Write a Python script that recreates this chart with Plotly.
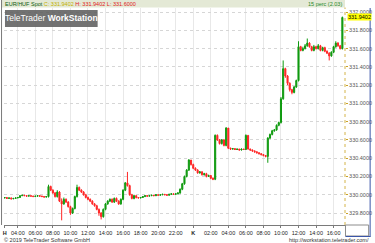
import pandas as pd
import plotly.graph_objects as go

# ---- data (15 minute candles, EUR/HUF spot) ----
start_time = "2019-06-03 02:30"
n_candles = 155

open_ = [329.965, 329.970, 329.960, 329.965, 329.955, 329.960, 329.965, 329.970, 329.990, 329.995,
         329.990, 329.985, 329.990, 329.985, 329.980, 329.985, 329.990, 329.985, 329.980, 329.975,
         329.980, 330.090, 330.050, 330.020, 329.980, 330.030, 329.930, 329.900, 329.950, 329.920,
         329.870, 329.800, 329.850, 329.980, 330.080, 330.050, 330.030, 330.000, 329.970, 329.950,
         329.930, 329.900, 329.880, 329.840, 329.800, 329.760, 329.840, 329.900, 329.930, 329.950,
         329.920, 329.960, 329.930, 329.900, 329.950, 330.050, 330.130, 330.100, 330.000, 329.960,
         329.990, 329.970, 329.965, 329.970, 329.980, 329.990, 329.985, 329.990, 329.995, 329.990,
         330.000, 329.995, 330.000, 330.005, 330.000, 329.995, 330.005, 330.010, 330.005, 330.010,
         330.020, 330.060, 330.120, 330.200, 330.270, 330.380, 330.330, 330.290, 330.270, 330.240,
         330.250, 330.220, 330.230, 330.200, 330.210, 330.180, 330.170, 330.650, 330.600, 330.560,
         330.600, 330.540, 330.730, 330.510, 330.500, 330.505, 330.495, 330.500, 330.490, 330.500,
         330.495, 330.650, 330.500, 330.490, 330.480, 330.470, 330.460, 330.450, 330.440, 330.430,
         330.420, 330.620, 330.660, 330.700, 330.710, 330.760, 330.790, 331.050, 331.380, 331.300,
         331.220, 331.150, 331.120, 331.180, 331.250, 331.620, 331.580, 331.600, 331.630, 331.660,
         331.620, 331.580, 331.620, 331.600, 331.630, 331.580, 331.610, 331.570, 331.550, 331.520,
         331.560, 331.620, 331.660, 331.630, 331.600]

high = [329.975, 329.975, 329.970, 329.970, 329.965, 329.970, 329.975, 329.995, 330.000, 329.998,
        329.995, 329.995, 329.992, 329.990, 329.990, 329.995, 329.993, 329.990, 329.985, 329.985,
        330.110, 330.100, 330.060, 330.030, 330.050, 330.040, 329.960, 329.970, 329.960, 329.930,
        329.880, 329.860, 329.990, 330.110, 330.090, 330.060, 330.040, 330.010, 329.980, 329.960,
        329.940, 329.910, 329.890, 329.850, 329.810, 329.850, 329.910, 329.940, 329.960, 329.960,
        329.970, 329.970, 329.940, 329.960, 330.060, 330.140, 330.250, 330.110, 330.010, 330.000,
        329.995, 329.975, 329.975, 329.985, 329.995, 329.995, 329.993, 330.000, 329.998, 330.005,
        330.003, 330.005, 330.010, 330.008, 330.003, 330.010, 330.015, 330.012, 330.015, 330.025,
        330.070, 330.130, 330.210, 330.280, 330.390, 330.380, 330.340, 330.300, 330.280, 330.260,
        330.260, 330.240, 330.240, 330.220, 330.215, 330.190, 330.660, 330.660, 330.610, 330.610,
        330.610, 330.740, 330.730, 330.515, 330.512, 330.508, 330.505, 330.503, 330.505, 330.503,
        330.660, 330.650, 330.505, 330.495, 330.485, 330.475, 330.465, 330.455, 330.445, 330.435,
        330.630, 330.670, 330.710, 330.720, 330.770, 330.800, 331.070, 331.470, 331.390, 331.310,
        331.230, 331.160, 331.190, 331.260, 331.680, 331.630, 331.620, 331.650, 331.710, 331.670,
        331.630, 331.640, 331.630, 331.650, 331.640, 331.620, 331.620, 331.580, 331.560, 331.570,
        331.630, 331.680, 331.670, 331.640, 331.950]

low = [329.960, 329.955, 329.955, 329.950, 329.952, 329.958, 329.962, 329.968, 329.985, 329.985,
       329.980, 329.982, 329.980, 329.975, 329.978, 329.982, 329.980, 329.975, 329.970, 329.970,
       329.970, 330.040, 330.010, 329.970, 329.970, 329.920, 329.720, 329.890, 329.910, 329.860,
       329.780, 329.790, 329.840, 329.970, 330.040, 330.020, 329.990, 329.960, 329.940, 329.920,
       329.890, 329.870, 329.830, 329.770, 329.730, 329.750, 329.830, 329.890, 329.920, 329.910,
       329.910, 329.920, 329.890, 329.890, 329.940, 330.040, 330.090, 329.990, 329.950, 329.950,
       329.960, 329.960, 329.960, 329.965, 329.975, 329.980, 329.982, 329.985, 329.985, 329.985,
       329.990, 329.990, 329.995, 329.995, 329.990, 329.990, 330.000, 330.000, 330.000, 330.005,
       330.010, 330.050, 330.110, 330.190, 330.260, 330.320, 330.280, 330.260, 330.230, 330.230,
       330.210, 330.210, 330.190, 330.195, 330.170, 330.160, 330.160, 330.590, 330.550, 330.550,
       330.530, 330.530, 330.500, 330.490, 330.495, 330.490, 330.490, 330.485, 330.485, 330.490,
       330.490, 330.495, 330.480, 330.470, 330.460, 330.450, 330.440, 330.430, 330.420, 330.410,
       330.350, 330.610, 330.650, 330.690, 330.700, 330.750, 330.780, 331.040, 331.280, 331.200,
       331.130, 331.100, 331.110, 331.170, 331.240, 331.570, 331.570, 331.590, 331.620, 331.610,
       331.570, 331.570, 331.590, 331.590, 331.570, 331.570, 331.560, 331.540, 331.470, 331.510,
       331.550, 331.610, 331.620, 331.590, 331.590]

close = [329.970, 329.960, 329.965, 329.955, 329.960, 329.965, 329.970, 329.990, 329.995, 329.990,
         329.985, 329.990, 329.985, 329.980, 329.985, 329.990, 329.985, 329.980, 329.975, 329.980,
         330.090, 330.050, 330.020, 329.980, 330.030, 329.930, 329.900, 329.950, 329.920, 329.870,
         329.800, 329.850, 329.980, 330.080, 330.050, 330.030, 330.000, 329.970, 329.950, 329.930,
         329.900, 329.880, 329.840, 329.800, 329.760, 329.840, 329.900, 329.930, 329.950, 329.920,
         329.960, 329.930, 329.900, 329.950, 330.050, 330.130, 330.100, 330.000, 329.960, 329.990,
         329.970, 329.965, 329.970, 329.980, 329.990, 329.985, 329.990, 329.995, 329.990, 330.000,
         329.995, 330.000, 330.005, 330.000, 329.995, 330.005, 330.010, 330.005, 330.010, 330.020,
         330.060, 330.120, 330.200, 330.270, 330.380, 330.330, 330.290, 330.270, 330.240, 330.250,
         330.220, 330.230, 330.200, 330.210, 330.180, 330.170, 330.650, 330.600, 330.560, 330.600,
         330.540, 330.730, 330.510, 330.500, 330.505, 330.495, 330.500, 330.490, 330.500, 330.495,
         330.650, 330.500, 330.490, 330.480, 330.470, 330.460, 330.450, 330.440, 330.430, 330.420,
         330.620, 330.660, 330.700, 330.710, 330.760, 330.790, 331.050, 331.380, 331.300, 331.220,
         331.150, 331.120, 331.180, 331.250, 331.620, 331.580, 331.600, 331.630, 331.660, 331.620,
         331.580, 331.620, 331.600, 331.630, 331.580, 331.610, 331.570, 331.550, 331.520, 331.560,
         331.620, 331.660, 331.630, 331.600, 331.9402]

tick_times = ["2019-06-03 02:30", "2019-06-03 04:00", "2019-06-03 06:00", "2019-06-03 08:00",
              "2019-06-03 10:00", "2019-06-03 12:00", "2019-06-03 14:00", "2019-06-03 16:00",
              "2019-06-03 18:00", "2019-06-03 20:00", "2019-06-03 22:00", "2019-06-04 00:00",
              "2019-06-04 02:00", "2019-06-04 04:00", "2019-06-04 06:00", "2019-06-04 08:00",
              "2019-06-04 10:00", "2019-06-04 12:00", "2019-06-04 14:00", "2019-06-04 16:00"]
tick_labels = ["<b>H</b>", "04:00", "06:00", "08:00", "10:00", "12:00", "14:00", "16:00",
               "18:00", "20:00", "22:00", "<b>K</b>", "02:00", "04:00", "06:00", "08:00",
               "10:00", "12:00", "14:00", "16:00"]
y_ticks = [329.8, 330.0, 330.2, 330.4, 330.6, 330.8, 331.0, 331.2, 331.4, 331.6, 331.8, 332.0]
last_price = 331.9402

times = pd.date_range(start_time, periods=n_candles, freq="15min")

# ---- layout helpers (pixel -> paper) ----
W, H = 375, 243
L, R, T, B = 3, 26, 8, 18
PW, PH = W - L - R, H - T - B


def px(X):
    return (X - L) / PW


def py(Y):
    return (H - B - Y) / PH


FONT = "Liberation Sans"
GREEN = "#0f9a0f"
RED = "#ff2626"

fig = go.Figure()
fig.add_trace(go.Candlestick(
    x=times, open=open_, high=high, low=low, close=close,
    increasing=dict(line=dict(color=GREEN, width=1), fillcolor=GREEN),
    decreasing=dict(line=dict(color=RED, width=1), fillcolor=RED),
    whiskerwidth=0, showlegend=False, hoverinfo="skip",
))

shapes = [
    # header bar
    dict(type="rect", xref="paper", yref="paper", x0=px(0), x1=px(349), y0=py(7.5), y1=py(0),
         fillcolor="#e4e9d6", line=dict(width=0), layer="below"),
    # right axis dotted line
    dict(type="line", xref="paper", yref="paper", x0=1, x1=1, y0=0, y1=py(7.5),
         line=dict(color="#d4b44a", width=1, dash="dot")),
    # watermark box
    dict(type="rect", xref="paper", yref="paper", x0=px(4), x1=px(98), y0=py(27), y1=py(10),
         fillcolor="rgba(95,95,95,0.88)", line=dict(width=0)),
    # bottom-right box
    dict(type="rect", xref="paper", yref="paper", x0=px(349.5), x1=px(373), y0=py(236), y1=py(225),
         fillcolor="white", line=dict(color="#8c8c8c", width=1)),
    # blue window edge
    dict(type="line", xref="paper", yref="paper", x0=px(374.5), x1=px(374.5), y0=py(236.5), y1=py(8),
         line=dict(color="#3a55a8", width=1)),
    dict(type="line", xref="paper", yref="paper", x0=px(349.5), x1=px(375), y0=py(236.5), y1=py(236.5),
         line=dict(color="#3a55a8", width=1)),
    # left edge
    dict(type="line", xref="paper", yref="paper", x0=px(0.5), x1=px(0.5), y0=0, y1=py(0),
         line=dict(color="#7a7a7a", width=1)),
]

annotations = [
    dict(xref="paper", yref="paper", x=px(1.5), y=py(3.8), xanchor="left", yanchor="middle",
         text="<span style='color:#0a5a0a'>EUR/HUF Spot</span> "
              "<span style='color:#c2b000'>C: 331.9402</span> "
              "<span style='color:#e02020'>H: 331.9402 L: 331.6000</span>",
         showarrow=False, font=dict(family=FONT, size=5.5)),
    dict(xref="paper", yref="paper", x=px(348), y=py(3.8), xanchor="right", yanchor="middle",
         text="15 perc (2.03)", showarrow=False, font=dict(family=FONT, size=5.5, color="#2a8a2a")),
    dict(xref="paper", yref="paper", x=px(51), y=py(18.5), xanchor="center", yanchor="middle",
         text="TeleTrader <b>WorkStation</b>", showarrow=False,
         font=dict(family=FONT, size=8.5, color="white")),
    dict(xref="paper", yref="y", x=1, y=last_price, xanchor="left", yanchor="middle", xshift=2,
         text=f"{last_price:.4f}", showarrow=False, bgcolor="#ffff00", borderpad=0,
         font=dict(family=FONT, size=5.5, color="black")),
    dict(xref="paper", yref="paper", x=px(0.5), y=py(239.5), xanchor="left", yanchor="middle",
         text="© 2019 TeleTrader Software GmbH", showarrow=False,
         font=dict(family=FONT, size=5.5, color="#333333")),
    dict(xref="paper", yref="paper", x=px(375), y=py(239.5), xanchor="right", yanchor="middle",
         text="http://workstation.teletrader.com/", showarrow=False,
         font=dict(family=FONT, size=5.5, color="#333333")),
]

fig.update_layout(
    width=W, height=H, autosize=False,
    margin=dict(l=L, r=R, t=T, b=B, pad=0),
    paper_bgcolor="white", plot_bgcolor="white",
    shapes=shapes, annotations=annotations,
    xaxis=dict(
        type="date", range=["2019-06-03 02:25:36", "2019-06-04 17:18:00"],
        rangeslider=dict(visible=False),
        tickvals=tick_times, ticktext=tick_labels,
        tickfont=dict(family=FONT, size=5.5, color="#222222"),
        showgrid=True, gridcolor="#e8e8e8", gridwidth=1,
        showline=True, linecolor="#7a7a7a", linewidth=1,
        ticks="outside", ticklen=2, tickcolor="#7a7a7a", zeroline=False,
    ),
    yaxis=dict(
        side="right", range=[329.669, 332.044],
        tickvals=y_ticks, tickformat=".4f",
        tickfont=dict(family=FONT, size=5.5, color="#555555"),
        showgrid=True, gridcolor="#d6d6d6", griddash="dot", gridwidth=1,
        showline=False, ticks="outside", ticklen=2, tickcolor="#c9a227",
        zeroline=False,
    ),
)

fig.write_html("out.html")
